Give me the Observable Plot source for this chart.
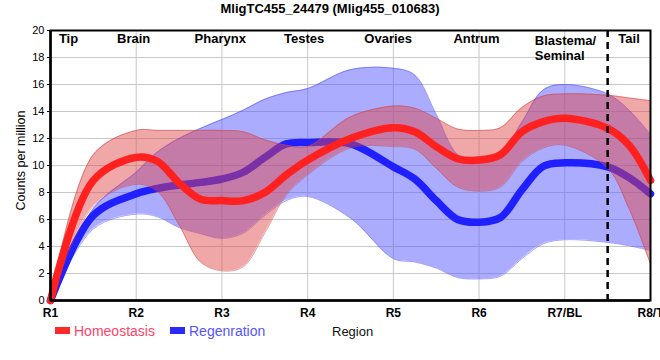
<!DOCTYPE html>
<html>
<head>
<meta charset="utf-8">
<script src="https://cdn.jsdelivr.net/npm/d3@7"></script>
<script src="https://cdn.jsdelivr.net/npm/@observablehq/plot@0.6"></script>
<style>
  html, body { margin: 0; padding: 0; background: white; }
  #chart { width: 660px; height: 360px; overflow: hidden; }
</style>
</head>
<body>
<div id="chart"></div>
<script>
// ---- data ----
const title = "MligTC455_24479 (Mlig455_010683)";
const positions   = [1, 1.5, 2, 2.25, 2.5, 2.75, 3, 3.25, 3.5, 3.75, 4, 4.5, 5, 5.25, 5.5, 5.75, 6, 6.25, 6.5, 6.75, 7, 7.5, 7.75, 8];
const homeoMean   = [0, 8.9, 10.6, 10.3, 8.7, 7.5, 7.4, 7.4, 8.0, 9.3, 10.4, 12.0, 12.8, 12.5, 11.4, 10.5, 10.4, 10.8, 12.5, 13.25, 13.5, 12.75, 11.5, 8.9];
const homeoLow    = [0, 7.0, 8.6, 8.05, 5.6, 2.85, 2.2, 2.5, 5.0, 7.8, 9.3, 11.3, 11.4, 11.2, 9.8, 8.4, 8.1, 8.4, 10.3, 11.3, 11.5, 9.8, 6.8, 2.7];
const homeoHigh   = [0, 10.8, 12.6, 12.6, 12.6, 12.6, 12.6, 12.5, 11.9, 11.5, 11.4, 13.6, 14.4, 14.25, 13.5, 12.7, 12.6, 12.8, 14.3, 15.15, 15.3, 15.2, 15.0, 14.8];
const regenMean   = [0, 6.3, 7.9, 8.3, 8.55, 8.75, 9.0, 9.5, 10.6, 11.6, 11.7, 11.6, 9.9, 9.0, 7.4, 6.0, 5.8, 6.15, 8.2, 9.95, 10.2, 9.9, 9.1, 7.9];
const regenLow    = [0, 5.3, 6.4, 6.2, 5.4, 4.95, 4.6, 5.0, 6.3, 7.4, 7.7, 6.1, 3.1, 2.85, 2.4, 1.7, 1.6, 1.8, 3.1, 4.2, 4.5, 4.3, 4.05, 3.7];
const regenHigh   = [0, 6.8, 9.5, 11.0, 12.0, 12.75, 13.4, 14.1, 14.9, 15.4, 15.7, 17.1, 17.2, 16.7, 13.8, 10.8, 10.2, 10.8, 13.2, 15.6, 16.0, 15.3, 14.1, 12.3];
const tickPositions = [1, 2, 3, 4, 5, 6, 7, 8];
const tickLabels  = ["R1", "R2", "R3", "R4", "R5", "R6", "R7/BL", "R8/T"];
const regionNames = ["Tip", "Brain", "Pharynx", "Testes", "Ovaries", "Antrum", "Blastema/\nSeminal", "Tail"];
const regionX     = [1.21, 1.97, 2.98, 3.96, 4.94, 5.97, 6.65, 7.75];
const dividerX    = [7.5];
const seriesNames = ["Homeostasis", "Regenration"];
const yLabel = "Counts per million";
const xLabel = "Region";

// ---- build tables ----
const rows = positions.map((p, i) => ({
  pos: p,
  hMean: homeoMean[i], hLow: homeoLow[i], hHigh: homeoHigh[i],
  rMean: regenMean[i], rLow: regenLow[i], rHigh: regenHigh[i]
}));
const regions = regionNames.map((n, i) => ({name: n, x: regionX[i]}));
const regionsCenter = regions.filter(d => !d.name.includes("\n"));
const regionsStart = regions.filter(d => d.name.includes("\n"));
const ticks = tickPositions.map((p, i) => ({x: p, label: tickLabels[i]}));

const font = "'Liberation Sans', Arial, sans-serif";
const curve = "catmull-rom";

const plot = Plot.plot({
  width: 660,
  height: 360,
  marginLeft: 50,
  marginRight: 10,
  marginTop: 30,
  marginBottom: 60,
  style: {fontFamily: font, fontSize: "11px", color: "black", background: "white", overflow: "visible"},
  x: {type: "linear", domain: [1, 8], axis: null},
  y: {domain: [0, 20], ticks: 10, tickSize: 3, tickPadding: 3, label: null},
  marks: [
    Plot.ruleY(d3.range(0, 21, 2), {stroke: "#c8c8c8", strokeWidth: 1}),
    Plot.ruleX(tickPositions, {stroke: "#c8c8c8", strokeWidth: 1}),
    // Regeneration band + line
    Plot.areaY(rows, {x: "pos", y1: "rLow", y2: "rHigh", curve, fill: "#5a5aff", fillOpacity: 0.5}),
    Plot.lineY(rows, {x: "pos", y: "rLow", curve, stroke: "#4a4aff", strokeWidth: 1, strokeOpacity: 0.5}),
    Plot.lineY(rows, {x: "pos", y: "rHigh", curve, stroke: "#4a4aff", strokeWidth: 1, strokeOpacity: 0.5}),
    Plot.lineY(rows, {x: "pos", y: "rMean", curve, stroke: "#2020ff", strokeWidth: 7.5}),
    // Homeostasis band + line
    Plot.areaY(rows, {x: "pos", y1: "hLow", y2: "hHigh", curve, fill: "#e04545", fillOpacity: 0.47}),
    Plot.lineY(rows, {x: "pos", y: "hLow", curve, stroke: "#d04040", strokeWidth: 1, strokeOpacity: 0.5}),
    Plot.lineY(rows, {x: "pos", y: "hHigh", curve, stroke: "#d04040", strokeWidth: 1, strokeOpacity: 0.5}),
    Plot.lineY(rows, {x: "pos", y: "hMean", curve, stroke: "#ff2020", strokeWidth: 7.5}),
    // divider
    Plot.ruleX(dividerX, {stroke: "black", strokeWidth: 2.5, strokeDasharray: "7,5"}),
    Plot.frame({stroke: "black", strokeWidth: 2}),
    Plot.ruleX([1], {stroke: "black", strokeWidth: 2.5}),
    Plot.ruleY([0], {stroke: "black", strokeWidth: 2.5}),
    // x tick labels
    Plot.text(ticks, {x: "x", text: "label", frameAnchor: "bottom", lineAnchor: "top", dy: 8,
      fontWeight: "bold", fontSize: 12, fill: "black"}),
    // region labels
    Plot.text(regionsCenter, {x: "x", text: "name", frameAnchor: "top", lineAnchor: "top", dy: 3.5,
      fontWeight: "bold", fontSize: 13, fill: "black"}),
    Plot.text(regionsStart, {x: "x", text: "name", frameAnchor: "top", lineAnchor: "top", dy: 3.5,
      textAnchor: "start", lineHeight: 1.15, fontWeight: "bold", fontSize: 13, fill: "black"})
  ]
});

// annotations: title, axis labels, legend
const svg = d3.select(plot);
const ann = svg.append("g").attr("font-family", font).attr("fill", "black");
ann.append("text").attr("x", 330).attr("y", 13).attr("text-anchor", "middle")
  .attr("font-weight", "bold").attr("font-size", 13).text(title);
ann.append("text").attr("transform", "translate(24.5,160.5) rotate(-90)").attr("text-anchor", "middle")
  .attr("font-size", 12.5).text(yLabel);
ann.append("text").attr("x", 332).attr("y", 336).attr("text-anchor", "start")
  .attr("font-size", 13).attr("fill", "#111").text(xLabel);

const legendItems = [
  {name: seriesNames[0], swatch: "#ff2a2a", text: "#ff4466", x: 55},
  {name: seriesNames[1], swatch: "#2a2aff", text: "#5555ff", x: 170}
];
legendItems.forEach(d => {
  ann.append("rect").attr("x", d.x).attr("y", 327).attr("width", 15).attr("height", 7).attr("fill", d.swatch);
  ann.append("text").attr("x", d.x + 19).attr("y", 336).attr("text-anchor", "start")
    .attr("font-size", 14).attr("fill", d.text).text(d.name);
});

document.getElementById("chart").appendChild(plot);
</script>
</body>
</html>
